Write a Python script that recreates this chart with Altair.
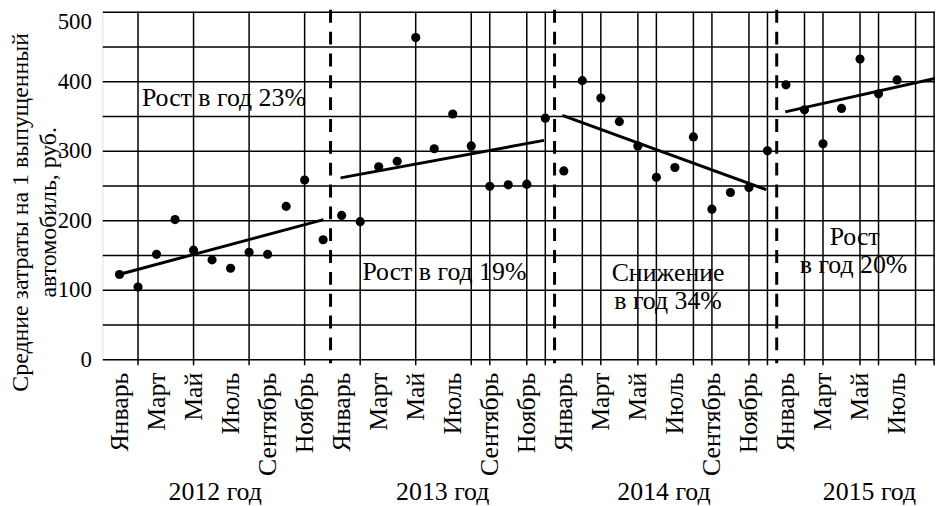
import altair as alt
import pandas as pd

# ---------------- data ----------------
axis_month_labels = ["Январь", "", "Март", "", "Май", "", "Июль", "", "Сентябрь", "", "Ноябрь", ""]
year_labels = ["2012 год", "2013 год", "2014 год", "2015 год"]
year_label_pos = [5.17, 17.46, 29.41, 40.51]

costs_2012 = [122, 104, 151, 201, 157, 143, 131, 154, 151, 220, 258, 172]
costs_2013 = [207, 198, 277, 285, 463, 303, 353, 307, 249, 251, 252, 347]
costs_2014 = [271, 401, 376, 342, 307, 262, 276, 320, 216, 240, 247, 300]
costs_2015 = [395, 359, 310, 361, 432, 382, 402]

# trend segments (month index, value)
trend_x1 = [-0.03, 11.94, 23.92, 35.96]
trend_y1 = [122, 261, 351, 356]
trend_x2 = [11.02, 22.93, 34.94, 44.05]
trend_y2 = [201, 315, 244, 404]

year_bounds = [11.4, 23.5, 35.5]
grid_months = [1, 4, 7, 10, 13, 16, 19, 20, 22, 23, 25, 26, 28, 29, 31, 32, 34, 35, 37, 38, 40, 41, 43, 44]

ann_left_text = ["Рост в год 23%", "Рост в год 19%"]
ann_left_x = [1.21, 13.12]
ann_left_y = [376, 126]

ann_center_text = ["Снижение", "в год 34%", "Рост", "в год 20%"]
ann_center_x = [29.63, 29.63, 39.71, 39.65]
ann_center_y = [124, 84, 176, 136]

y_title_1 = "Средние затраты на 1 выпущенный"
y_title_2 = "автомобиль, руб."

# ---------------- build ----------------
FONT = "Liberation Serif"
FS = 26
W, H = 839, 350
TOP = 2

all_costs = costs_2012 + costs_2013 + costs_2014 + costs_2015
pts = pd.DataFrame({"idx": list(range(len(all_costs))), "cost": all_costs})
trend = pd.DataFrame({"x1": trend_x1, "y1": trend_y1, "x2": trend_x2, "y2": trend_y2})
grid_df = pd.DataFrame({"m": grid_months})
bounds_df = pd.DataFrame({"b": year_bounds})
ann_l = pd.DataFrame({"t": ann_left_text, "x": ann_left_x, "y": ann_left_y})
ann_c = pd.DataFrame({"t": ann_center_text, "x": ann_center_x, "y": ann_center_y})
years_df = pd.DataFrame({"t": year_labels, "x": year_label_pos})

x_scale = alt.Scale(domain=[-0.93, 44.05], nice=False, zero=False)
y_scale = alt.Scale(domain=[0, 500], nice=False, zero=True)

label_expr = "[" + ",".join(f"'{m}'" for m in axis_month_labels) + "][datum.value % 12]"

x_axis = alt.Axis(
    values=list(range(0, 44, 2)), labelExpr=label_expr, labelAngle=270,
    labelAlign="right", labelBaseline="middle",
    ticks=False, domain=False, grid=False, labelPadding=13,
    labelFont=FONT, labelFontSize=FS, labelColor="black",
    labelFlush=False, labelOverlap=False, title=None,
)
y_axis = alt.Axis(
    values=list(range(0, 501, 50)),
    labelExpr="datum.value % 100 == 0 ? datum.label : ''",
    grid=True, gridColor="black", gridWidth=1.5, gridOpacity=1,
    ticks=False, domain=False, labelPadding=11,
    labelOffset={"condition": {"test": "datum.value == 500", "value": 10}, "value": 0},
    labelFlush=False, labelFont=FONT, labelFontSize=23, labelColor="black", title=None,
)


def X(field):
    return alt.X(field, type="quantitative", scale=x_scale, axis=x_axis)


def Y(field):
    return alt.Y(field, type="quantitative", scale=y_scale, axis=y_axis)


vgrid = alt.Chart(grid_df).mark_rule(color="black", strokeWidth=1.5).encode(
    x=X("m"), y=alt.value(0), y2=alt.value(H + 6),
)

dash = alt.Chart(bounds_df).mark_rule(color="black", strokeWidth=3, strokeDash=[13, 9]).encode(
    x=X("b"), y=alt.value(-2), y2=alt.value(H + 4),
)

trend_l = alt.Chart(trend).mark_rule(color="black", strokeWidth=3, clip=True).encode(
    x=X("x1"), x2="x2:Q", y=Y("y1"), y2="y2:Q",
)

points = alt.Chart(pts).mark_circle(size=85, color="black", opacity=1).encode(
    x=X("idx"), y=Y("cost"),
)

txt_l = alt.Chart(ann_l).mark_text(font=FONT, fontSize=FS, color="black", align="left", baseline="middle").encode(
    x=X("x"), y=Y("y"), text="t:N",
)
txt_c = alt.Chart(ann_c).mark_text(font=FONT, fontSize=FS, color="black", align="center", baseline="middle").encode(
    x=X("x"), y=Y("y"), text="t:N",
)
years_t = alt.Chart(years_df).mark_text(font=FONT, fontSize=FS, color="black", align="center", baseline="middle").encode(
    x=X("x"), y=alt.value(486 - TOP), text="t:N",
)
one = pd.DataFrame({"a": [0]})
title_1 = alt.Chart(one).mark_text(
    text=y_title_1, font=FONT, fontSize=24, color="black", angle=270,
    align="center", baseline="middle",
).encode(x=alt.value(-82), y=alt.value(202))
title_2 = alt.Chart(one).mark_text(
    text=y_title_2, font=FONT, fontSize=24, color="black", angle=270,
    align="center", baseline="middle",
).encode(x=alt.value(-54), y=alt.value(202))

chart = alt.layer(vgrid, dash, trend_l, points, txt_l, txt_c, years_t, title_1, title_2).properties(
    width=W, height=H,
    autosize=alt.AutoSizeParams(type="none"),
    padding={"left": 95, "top": TOP, "right": 0, "bottom": 146},
).configure_view(stroke=None).configure(background="white")

chart.save("out.html", embed_options={"renderer": "svg", "actions": False})
